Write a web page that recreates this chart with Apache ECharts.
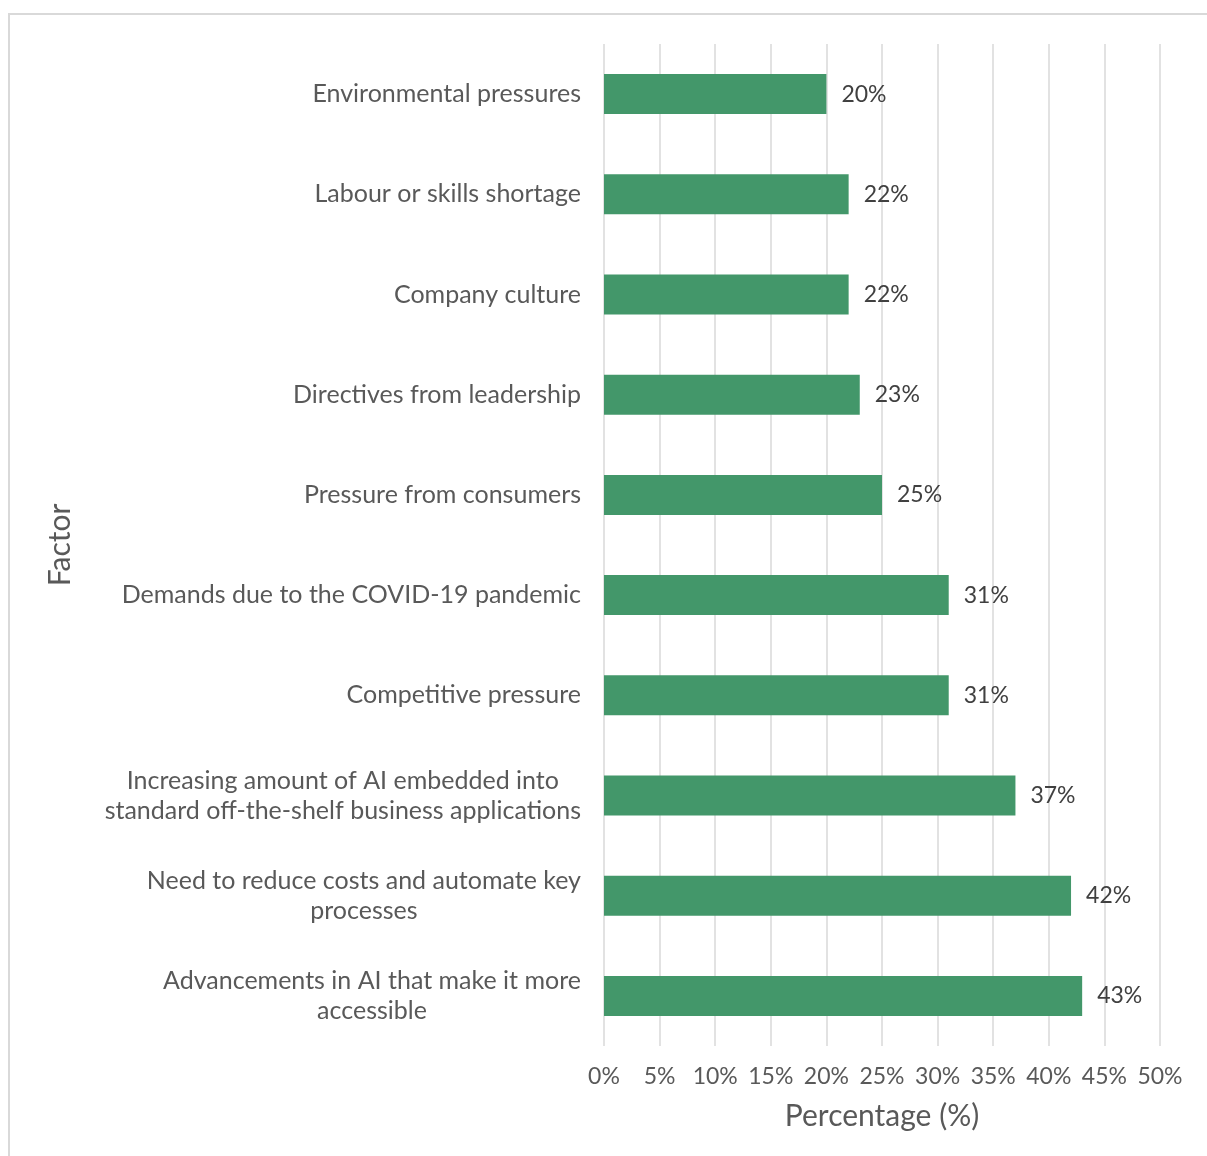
<!DOCTYPE html>
<html>
<head>
<meta charset="utf-8">
<script src="https://cdn.jsdelivr.net/npm/echarts@6/dist/echarts.min.js"></script>
<style>
  html, body { margin: 0; padding: 0; background: #ffffff; }
  #chart { width: 1207px; height: 1156px; }
</style>
</head>
<body>
<div id="chart"></div>
<script>
// Factors, listed top to bottom
const factors = [
  'Environmental pressures',
  'Labour or skills shortage',
  'Company culture',
  'Directives from leadership',
  'Pressure from consumers',
  'Demands due to the COVID-19 pandemic',
  'Competitive pressure',
  'Increasing amount of AI embedded into\nstandard off-the-shelf business applications',
  'Need to reduce costs and automate key\nprocesses',
  'Advancements in AI that make it more\naccessible'
];
// Share of respondents (%)
const shares = [20, 22, 22, 23, 25, 31, 31, 37, 42, 43];
// Percentage axis
const axisMin = 0;
const axisMax = 50;
const axisStep = 5;

const FONT = 'Lato, "Noto Sans", sans-serif';
const chart = echarts.init(document.getElementById('chart'), null, { renderer: 'canvas' });

chart.setOption({
  animation: false,
  backgroundColor: '#ffffff',
  graphic: [{
    type: 'rect',
    silent: true,
    shape: { x: 9, y: 14, width: 1400, height: 1400 },
    style: { fill: 'none', stroke: '#d9d9d9', lineWidth: 2 }
  }],
  grid: { left: 604, right: 47, top: 44, bottom: 110, containLabel: false },
  xAxis: {
    type: 'value',
    min: axisMin,
    max: axisMax,
    interval: axisStep,
    name: 'Percentage (%)',
    nameLocation: 'middle',
    nameGap: 55,
    nameTextStyle: { fontFamily: FONT, fontSize: 30, color: '#595959' },
    axisLine: { show: false },
    axisTick: { show: false },
    axisLabel: {
      margin: 19,
      fontFamily: FONT, fontSize: 23, color: '#595959',
      formatter: v => v + '%'
    },
    splitLine: { show: true, lineStyle: { color: '#d9d9d9', width: 1.5 } }
  },
  yAxis: {
    type: 'category',
    inverse: true,
    data: factors,
    name: 'Factor',
    nameLocation: 'middle',
    nameGap: 529,
    nameTextStyle: { fontFamily: FONT, fontSize: 30, color: '#595959' },
    axisLine: { show: false },
    axisTick: { show: false },
    splitLine: { show: false },
    axisLabel: {
      margin: 23,
      color: '#595959',
      formatter: v => v.split('\n').map(l => '{c|' + l + '}').join('\n'),
      rich: {
        c: { align: 'center', fontFamily: FONT, fontSize: 25, lineHeight: 30, color: '#595959' }
      }
    }
  },
  series: [{
    type: 'bar',
    data: shares,
    barWidth: 40,
    itemStyle: { color: '#43976a' },
    label: {
      show: true,
      position: 'right',
      distance: 15,
      fontFamily: FONT,
      fontSize: 23,
      color: '#404040',
      formatter: p => p.value + '%'
    }
  }]
});
</script>
</body>
</html>
